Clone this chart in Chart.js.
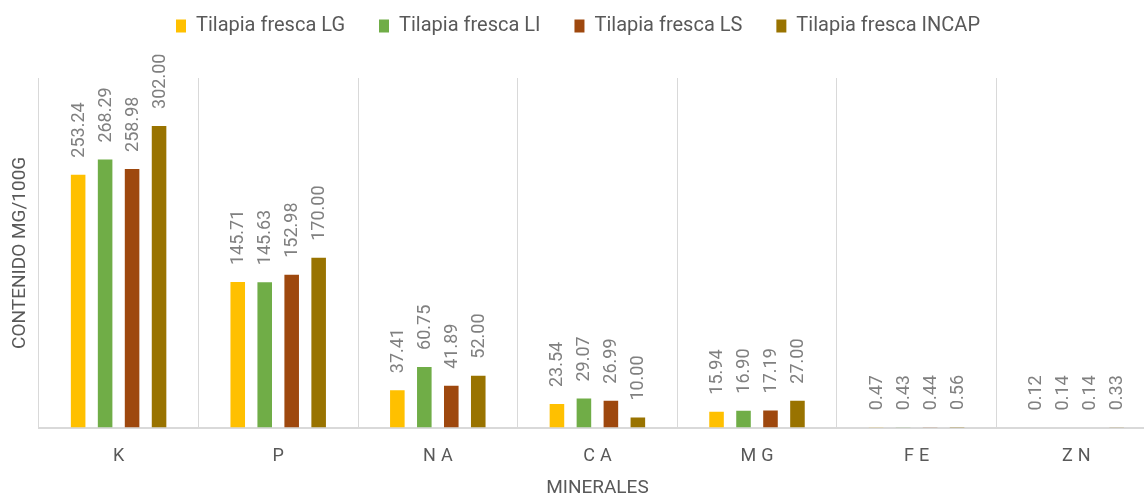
<!DOCTYPE html>
<html>
<head>
<meta charset="utf-8">
<script src="https://cdn.jsdelivr.net/npm/chart.js@4/dist/chart.umd.min.js"></script>
<style>
    html, body { margin: 0; padding: 0; overflow: hidden; background: #fff; }
</style>
</head>
<body>
<canvas id="chart" width="1156" height="500"></canvas>
<script>
const categories = ["K", "P", "NA", "CA", "MG", "FE", "ZN"];
const seriesNames = ["Tilapia fresca LG", "Tilapia fresca LI", "Tilapia fresca LS", "Tilapia fresca INCAP"];
const valuesLG = [253.24, 145.71, 37.41, 23.54, 15.94, 0.47, 0.12];
const valuesLI = [268.29, 145.63, 60.75, 29.07, 16.90, 0.43, 0.14];
const valuesLS = [258.98, 152.98, 41.89, 26.99, 17.19, 0.44, 0.14];
const valuesINCAP = [302.00, 170.00, 52.00, 10.00, 27.00, 0.56, 0.33];
const colors = ["#ffc000", "#70ad47", "#9e480e", "#997300"];

const font = "Roboto";

// rotated value labels above each bar
const barLabels = {
    id: "barLabels",
    afterDatasetsDraw(chart) {
        const ctx = chart.ctx;
        ctx.save();
        ctx.font = "18px " + font;
        ctx.fillStyle = "#808080";
        ctx.textAlign = "left";
        ctx.textBaseline = "middle";
        chart.data.datasets.forEach((ds, i) => {
            chart.getDatasetMeta(i).data.forEach((bar, j) => {
                ctx.save();
                ctx.translate(bar.x, bar.y - 17);
                ctx.rotate(-Math.PI / 2);
                ctx.fillText(ds.data[j].toFixed(2), 0, 1);
                ctx.restore();
            });
        });
        ctx.restore();
    }
};

// category labels with letter spacing
const spacedTicks = {
    id: "spacedTicks",
    afterDraw(chart) {
        const ctx = chart.ctx;
        const x = chart.scales.x;
        ctx.save();
        ctx.font = "18px " + font;
        ctx.fillStyle = "#595959";
        ctx.textAlign = "center";
        ctx.textBaseline = "middle";
        ctx.letterSpacing = "5px";
        categories.forEach((c, i) => {
            ctx.fillText(c, x.getPixelForValue(i) + 2.5, x.top + 29);
        });
        ctx.restore();
    }
};

// more room under the legend
const legendSpace = {
    id: "legendSpace",
    beforeInit(chart) {
        const fit = chart.legend.fit;
        chart.legend.fit = function () {
            fit.bind(chart.legend)();
            this.height = 96;
        };
    }
};

new Chart(document.getElementById("chart"), {
    type: "bar",
    data: {
        labels: categories,
        datasets: [valuesLG, valuesLI, valuesLS, valuesINCAP].map((d, i) => ({
            label: seriesNames[i],
            data: d,
            backgroundColor: colors[i],
            categoryPercentage: 0.676,
            barPercentage: 0.54
        }))
    },
    options: {
        responsive: false,
        animation: false,
        layout: { padding: { top: -18, bottom: 0, right: 0, left: 0 } },
        plugins: {
            legend: {
                position: "top",
                labels: {
                    boxWidth: 10,
                    boxHeight: 13,
                    padding: 34,
                    color: "#595959",
                    font: { family: font, size: 20 }
                }
            },
            tooltip: { enabled: false }
        },
        scales: {
            x: {
                grid: { offset: true, color: "#d9d9d9", drawTicks: false },
                border: { color: "#d9d9d9", width: 2 },
                ticks: { color: "rgba(0,0,0,0)", font: { family: font, size: 18 }, padding: 11 },
                title: {
                    display: true,
                    text: "MINERALES",
                    color: "#595959",
                    font: { family: font, size: 19 },
                    padding: { top: 6, bottom: 0 }
                }
            },
            y: {
                min: 0,
                max: 350,
                grid: { display: false },
                border: { display: false },
                ticks: { display: false },
                title: {
                    display: true,
                    text: "CONTENIDO MG/100G",
                    color: "#595959",
                    font: { family: font, size: 19 },
                    padding: { top: 9, bottom: -1 }
                }
            }
        }
    },
    plugins: [barLabels, spacedTicks, legendSpace]
});
</script>
</body>
</html>
